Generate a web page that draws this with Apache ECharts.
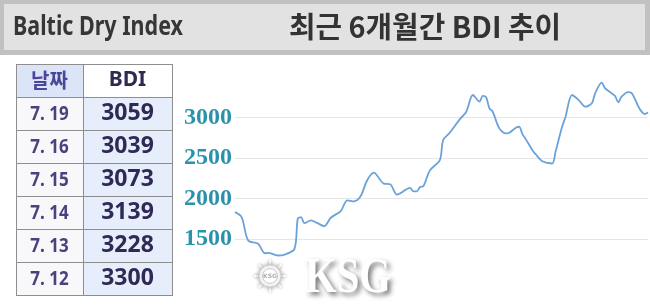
<!DOCTYPE html>
<html>
<head>
<meta charset="utf-8">
<script src="https://cdn.jsdelivr.net/npm/echarts@6/dist/echarts.min.js"></script>
<style>
html,body{margin:0;padding:0;background:#fff;}
#c{width:650px;height:306px;}
</style>
</head>
<body>
<div id="c"></div>
<script>
// ---- data ----
const titleLeft = 'Baltic Dry Index';
const titleMain = '최근 6개월간 BDI 추이';
const tableHeader = ['날짜', 'BDI'];
const tableDates = ['7. 19', '7. 16', '7. 15', '7. 14', '7. 13', '7. 12'];
const tableValues = [3059, 3039, 3073, 3139, 3228, 3300];
const tradingDays = [0,2,4,7,9,10,13,15,18,19,20,21,23,25,27,29,32,34,36,38,40,42,45,47,49,53,54,55,56,57,59,62,63,65,68,70,72,74,75,76,77,78,80,82,83,85,86,87,88,90,91,93,96,97,99,100,102,104,106,108,109,111,112,115,116,117,119,120,121,122,123,124,125];
const bdiSeries = [1834,1772,1485,1444,1328,1333,1300,1312,1382,1753,1772,1698,1732,1698,1661,1765,1847,1979,1966,2028,2226,2321,2185,2176,2049,2131,2090,2090,2143,2152,2349,2473,2720,2810,2975,3069,3275,3193,3263,3247,3111,3069,2864,2802,2810,2872,2884,2794,2732,2596,2547,2460,2432,2575,2884,3000,3275,3214,3131,3173,3296,3427,3358,3263,3185,3254,3310,3300,3228,3139,3073,3039,3059];
const yTickLabels = [1500, 2000, 2500, 3000];

// ---- helpers ----
function measure(text, font) {
  const cv = document.createElement('canvas').getContext('2d');
  cv.font = font;
  return cv.measureText(text).width;
}

const leftFont = 'bold 27px "Noto Sans"';
const leftScale = 170 / measure(titleLeft, leftFont);
const mainFont = 'bold 29px "Noto Sans CJK KR"';
const mainScale = Math.min(1.1, 272 / measure(titleMain, mainFont));
const wmFont = 'bold 50px "Liberation Serif"';
const wmScale = 86 / measure('KSG', wmFont);

const graphics = [];
// header frame
graphics.push({type:'rect', shape:{x:0,y:0,width:650,height:55}, style:{fill:'#c1c1c1'}, z:1});
graphics.push({type:'rect', shape:{x:4,y:4,width:641,height:46}, style:{fill:'#e2e2e2'}, z:2});
graphics.push({type:'text', x:13, y:27, scaleX:leftScale, z:3,
  style:{text:titleLeft, x:0, y:0, font:leftFont, fill:'#363636', verticalAlign:'middle', align:'left'}});
graphics.push({type:'text', x:425, y:27, scaleX:mainScale, z:3,
  style:{text:titleMain, x:0, y:0, font:mainFont, fill:'#333333', verticalAlign:'middle', align:'center'}});

// table
const tX0 = 16, tX1 = 83, tX2 = 172, tY0 = 64, rowH = 33;
const rows = tableDates.length + 1;
graphics.push({type:'rect', shape:{x:tX0,y:tY0,width:tX1-tX0,height:rowH}, style:{fill:'#dce5f7'}, z:2});
graphics.push({type:'rect', shape:{x:tX1,y:tY0,width:tX2-tX1,height:rowH}, style:{fill:'#ffffff'}, z:2});
for (let i = 0; i < tableDates.length; i++) {
  const y = tY0 + rowH * (i + 1);
  graphics.push({type:'rect', shape:{x:tX0,y:y,width:tX1-tX0,height:rowH}, style:{fill:'#f8f8fa'}, z:2});
  graphics.push({type:'rect', shape:{x:tX1,y:y,width:tX2-tX1,height:rowH}, style:{fill:'#e7eefb'}, z:2});
  graphics.push({type:'text', x:(tX0+tX1)/2, y:y+rowH/2+1, scaleX:0.85, z:4,
    style:{text:tableDates[i], x:0, y:0, font:'bold 20px "Noto Sans"', fill:'#4a417e', align:'center', verticalAlign:'middle'}});
  graphics.push({type:'text', x:(tX1+tX2)/2, y:y+rowH/2, z:4,
    style:{text:String(tableValues[i]), x:0, y:0, font:'bold 23px "Noto Sans"', fill:'#2f2a55', align:'center', verticalAlign:'middle'}});
}
graphics.push({type:'text', x:(tX0+tX1)/2, y:tY0+rowH/2, z:4,
  style:{text:tableHeader[0], x:0, y:0, font:'bold 20px "Noto Sans CJK KR"', fill:'#4c469a', align:'center', verticalAlign:'middle'}});
graphics.push({type:'text', x:(tX1+tX2)/2, y:tY0+rowH/2, z:4,
  style:{text:tableHeader[1], x:0, y:0, font:'bold 21px "Noto Sans"', fill:'#2d2b50', align:'center', verticalAlign:'middle'}});
// borders
for (let r = 0; r <= rows; r++) {
  const y = tY0 + rowH * r + 0.5;
  graphics.push({type:'line', shape:{x1:tX0,y1:y,x2:tX2,y2:y}, style:{stroke:'#8e8e8e', lineWidth:1}, z:5});
}
[tX0, tX1, tX2].forEach(function (x) {
  graphics.push({type:'line', shape:{x1:x+0.5,y1:tY0,x2:x+0.5,y2:tY0+rowH*rows+1}, style:{stroke:'#8e8e8e', lineWidth:1}, z:5});
});

// watermark
graphics.push({type:'text', x:305, y:279, scaleX:wmScale, z:20,
  style:{text:'KSG', x:0, y:0, font:wmFont, fill:'#ffffff', align:'left', verticalAlign:'middle',
    textShadowColor:'rgba(0,0,0,0.55)', textShadowBlur:5, textShadowOffsetX:3, textShadowOffsetY:3}});
for (let k = 0; k < 8; k++) {
  const a = k * Math.PI / 4;
  graphics.push({type:'line', shape:{x1:270+Math.cos(a)*11, y1:276+Math.sin(a)*11, x2:270+Math.cos(a)*16, y2:276+Math.sin(a)*16},
    style:{stroke:'#ffffff', lineWidth:2.5, shadowColor:'rgba(0,0,0,0.35)', shadowBlur:3}, z:20});
}
graphics.push({type:'circle', shape:{cx:270, cy:276, r:11}, z:21,
  style:{fill:'#ffffff', stroke:'#d0d0d0', lineWidth:1, shadowColor:'rgba(0,0,0,0.35)', shadowBlur:4}});
graphics.push({type:'circle', shape:{cx:270, cy:276, r:7.5}, z:22,
  style:{fill:'#ffffff', stroke:'#c8c8c8', lineWidth:1}});
graphics.push({type:'text', x:270, y:276, z:23,
  style:{text:'KSG', x:0, y:0, font:'bold 6px "DejaVu Sans"', fill:'#b0b0b0', align:'center', verticalAlign:'middle'}});

const lineData = tradingDays.map(function (d, i) { return [d, bdiSeries[i]]; });

const chart = echarts.init(document.getElementById('c'), null, {renderer:'canvas'});
chart.setOption({
  animation: false,
  backgroundColor: '#ffffff',
  grid: {left: 235, right: 2, top: 76.7, bottom: 26.1, containLabel: false},
  xAxis: {
    type: 'value', min: 0, max: 125,
    show: false
  },
  yAxis: {
    type: 'value', min: 1000, max: 3500, interval: 500,
    axisLine: {show: false}, axisTick: {show: false},
    axisLabel: {
      margin: 3,
      padding: [0, 0, 10, 0],
      fontFamily: 'Liberation Serif', fontWeight: 'bold', fontSize: 24, color: '#2a93ab',
      formatter: function (v) { return yTickLabels.indexOf(v) >= 0 ? String(v) : ''; }
    },
    splitLine: {lineStyle: {color: ['transparent', '#e6e6e6', '#e6e6e6', '#e6e6e6', '#e6e6e6', 'transparent'], width: 1}}
  },
  series: [{
    type: 'line',
    data: lineData,
    smooth: 0.3,
    showSymbol: false,
    symbol: 'none',
    lineStyle: {color: '#6ba2da', width: 1.8},
    z: 3
  }],
  graphic: graphics
});
</script>
</body>
</html>
